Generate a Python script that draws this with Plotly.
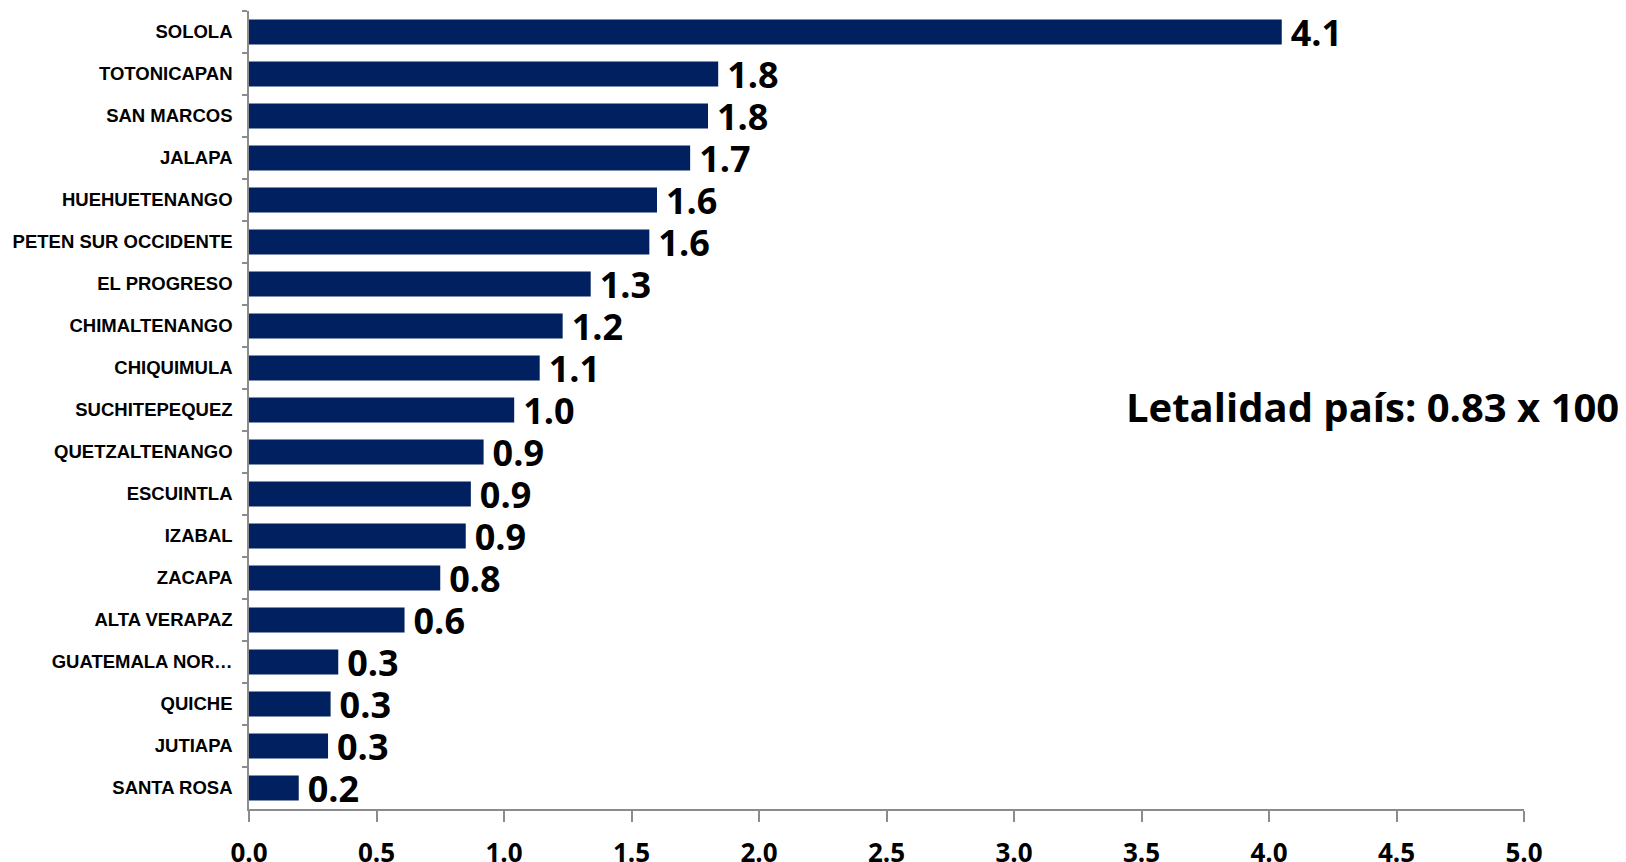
import plotly.graph_objects as go

departamentos = ["SOLOLA", "TOTONICAPAN", "SAN MARCOS", "JALAPA", "HUEHUETENANGO",
                 "PETEN SUR OCCIDENTE", "EL PROGRESO", "CHIMALTENANGO", "CHIQUIMULA",
                 "SUCHITEPEQUEZ", "QUETZALTENANGO", "ESCUINTLA", "IZABAL", "ZACAPA",
                 "ALTA VERAPAZ", "GUATEMALA NOR…", "QUICHE", "JUTIAPA", "SANTA ROSA"]
letalidad = [4.05, 1.84, 1.80, 1.73, 1.60, 1.57, 1.34, 1.23, 1.14, 1.04, 0.92, 0.87,
             0.85, 0.75, 0.61, 0.35, 0.32, 0.31, 0.195]
etiquetas = ["4.1", "1.8", "1.8", "1.7", "1.6", "1.6", "1.3", "1.2", "1.1", "1.0", "0.9",
             "0.9", "0.9", "0.8", "0.6", "0.3", "0.3", "0.3", "0.2"]
x_ticks = [0.0, 0.5, 1.0, 1.5, 2.0, 2.5, 3.0, 3.5, 4.0, 4.5, 5.0]
nota = "Letalidad país: 0.83 x 100"

fig = go.Figure()
fig.add_trace(go.Bar(
    x=letalidad, y=departamentos, orientation="h",
    marker=dict(color="#002060", line=dict(width=0)),
    text=["\u2009" + t for t in etiquetas], textposition="outside",
    constraintext="none",
    textfont=dict(family="Open Sans", size=36, color="#000000", weight="bold"),
    cliponaxis=False, width=0.6,
))

fig.add_annotation(
    text="<b>" + nota + "</b>", xref="x", yref="paper", x=4.405, y=0.504,
    showarrow=False, font=dict(family="Open Sans", size=40, color="#000000"),
    xanchor="center", yanchor="middle",
)

fig.update_layout(
    width=1618, height=854,
    margin=dict(l=241, r=102, t=3, b=53),
    paper_bgcolor="white", plot_bgcolor="white",
    showlegend=False,
    xaxis=dict(range=[0, 5], tickvals=x_ticks, tickformat=".1f",
               showgrid=False, zeroline=False, automargin=False,
               showline=True, linecolor="#8c8c8c", linewidth=1.5,
               ticks="outside", ticklen=11, tickcolor="#8c8c8c", tickwidth=1.5,
               tickfont=dict(family="Open Sans", size=26, color="#000000", weight="bold"),
               ticklabelstandoff=9),
    yaxis=dict(autorange="reversed", showgrid=False, zeroline=False, automargin=False,
               showline=True, linecolor="#8c8c8c", linewidth=1.5,
               ticks="outside", ticklen=5, tickcolor="#8c8c8c", tickwidth=1.5,
               tickson="boundaries",
               tickfont=dict(family="Liberation Sans", size=18.5, color="#000000", weight="bold"),
               ticklabelstandoff=11),
)

fig.write_html("out.html")
